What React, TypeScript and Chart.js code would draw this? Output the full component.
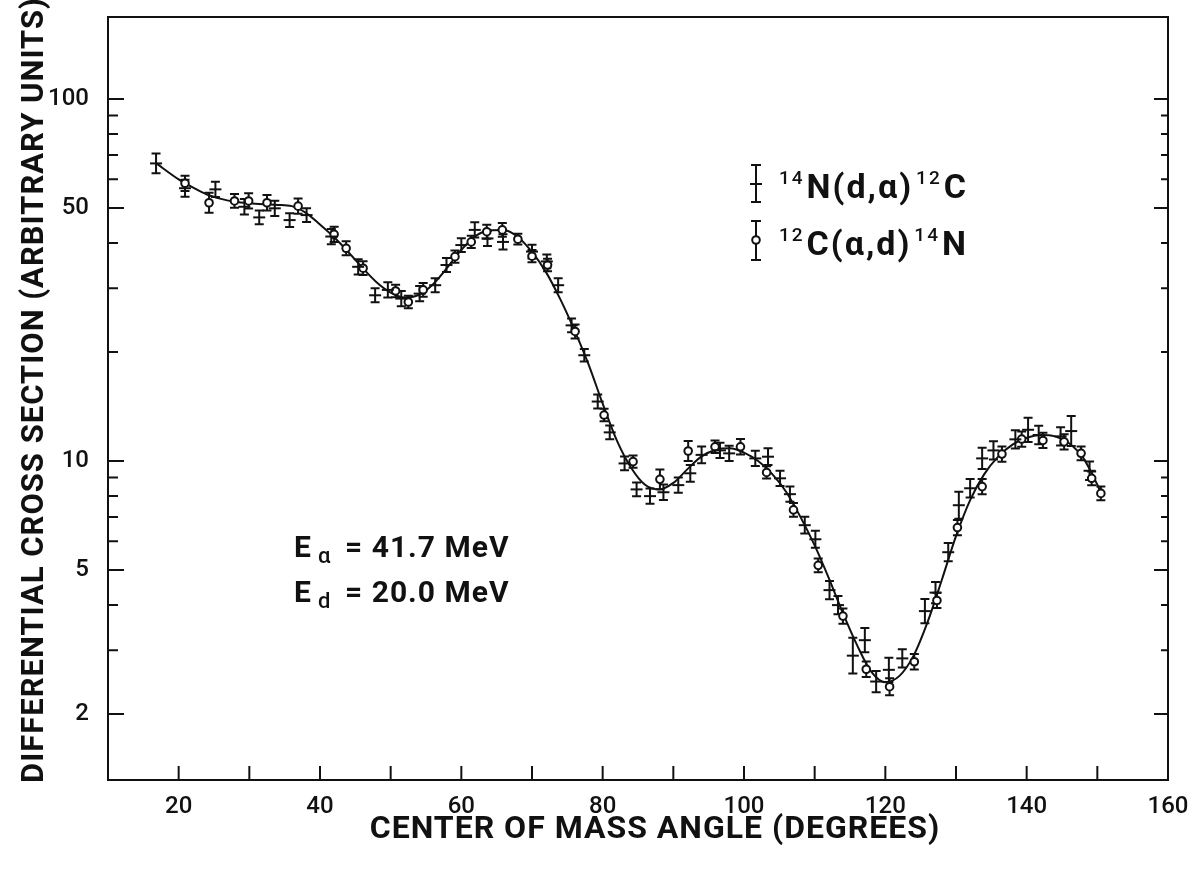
import React, { useEffect, useRef } from "react";
import { Chart, registerables } from "chart.js";

Chart.register(...registerables);

// ---- data ----
// 14N(d,alpha)12C  (crosses)
const crossX = [16.8, 20.9, 25.2, 29.3, 31.4, 33.6, 35.7, 38.1, 41.6, 45.4, 47.8, 49.6, 51.5, 54.1, 56.3, 57.9, 60.0, 61.9, 63.7, 65.9, 70.0, 72.1, 73.7, 75.6, 77.4, 79.3, 81.0, 83.1, 84.8, 86.7, 88.6, 90.7, 92.4, 94.0, 96.6, 97.9, 101.6, 103.4, 105.1, 106.5, 108.6, 110.1, 112.1, 113.3, 115.4, 117.1, 118.7, 120.5, 122.4, 125.6, 127.1, 128.9, 130.4, 132.0, 133.7, 135.3, 138.4, 140.2, 141.7, 144.8, 146.3, 148.9];
const crossY = [66.4, 56.7, 56.3, 50.4, 47.1, 49.9, 46.3, 47.8, 41.7, 34.4, 28.7, 29.7, 28.1, 29.0, 30.6, 34.8, 39.5, 43.5, 41.2, 40.3, 37.9, 35.6, 30.6, 23.7, 19.6, 14.6, 12.0, 9.85, 8.35, 8.0, 8.2, 8.58, 9.25, 10.4, 10.7, 10.5, 10.17, 10.28, 8.96, 8.1, 6.65, 6.08, 4.40, 4.0, 2.90, 3.2, 2.46, 2.65, 2.85, 3.85, 4.33, 5.6, 7.55, 8.41, 10.17, 10.7, 11.48, 12.2, 11.8, 11.7, 12.1, 9.4];
const crossErr = [6.5, 5.5, 5, 5, 4.5, 5, 4.5, 4.5, 5, 5, 4.5, 5, 5, 5, 4.5, 4.5, 4.5, 5, 5, 5, 4.5, 4.5, 4.5, 4.5, 4, 4.5, 4.5, 4.5, 4.5, 5, 5, 5, 5.5, 5.5, 5, 5, 5, 5.5, 5, 5, 5.5, 5.5, 6, 6, 12, 8, 7, 8, 6, 8, 7, 6, 9, 6, 7, 6, 6, 8, 6, 6, 10, 6];

// 12C(alpha,d)14N  (circles)
const circleX = [20.9, 24.3, 27.9, 29.9, 32.5, 36.9, 42.0, 43.7, 46.1, 50.7, 52.5, 54.6, 59.1, 61.4, 63.6, 65.8, 68.0, 70.0, 72.2, 76.1, 80.2, 84.3, 88.1, 92.1, 95.9, 99.5, 103.2, 107.0, 110.5, 114.0, 117.3, 120.6, 124.1, 127.3, 130.2, 133.7, 136.5, 139.3, 142.3, 145.3, 147.7, 149.2, 150.5];
const circleY = [58.5, 51.7, 52.3, 52.3, 51.7, 50.6, 42.3, 38.7, 34.1, 29.5, 27.5, 29.7, 36.7, 40.3, 43.0, 43.5, 41.0, 36.8, 34.8, 22.8, 13.4, 9.96, 8.9, 10.66, 10.95, 10.95, 9.3, 7.33, 5.15, 3.73, 2.66, 2.38, 2.79, 4.12, 6.55, 8.5, 10.45, 11.5, 11.4, 11.3, 10.5, 8.96, 8.14];
const circleErr = [5, 6.5, 4.5, 5, 5, 5, 5, 4.5, 4.5, 4, 4, 4.5, 4, 4, 4.5, 4.5, 3.5, 4, 4, 4.5, 4, 4, 6.5, 6.5, 4, 5, 4, 4.5, 4.5, 5, 5, 5.5, 5, 5, 5, 5, 5, 5, 5, 5, 4.5, 4.5, 4.5];

// fitted curve
const curveX = [16.8, 20, 22, 24, 26, 28, 30, 32, 34, 36, 38, 40, 42, 44, 46, 48, 50, 52, 54, 56, 58, 60, 62, 64, 66, 68, 70, 72, 74, 76, 78, 80, 82, 84, 86, 88, 90, 92, 94, 96, 98, 100, 102, 104, 106, 108, 110, 112, 114, 116, 118, 120, 122, 124, 126, 128, 130, 132, 134, 136, 138, 140, 142, 144, 146, 148, 150, 150.6];
const curveY = [66.5, 60.0, 57.0, 54.5, 53.0, 52.0, 51.5, 51.2, 51.0, 50.6, 48.5, 45.0, 41.5, 37.8, 34.2, 31.2, 29.2, 28.3, 28.8, 30.8, 34.2, 38.3, 41.8, 43.4, 43.5, 41.6, 37.8, 33.2, 28.0, 23.0, 18.5, 14.4, 11.4, 9.6, 8.6, 8.35, 8.7, 9.5, 10.3, 10.75, 10.85, 10.55, 10.0, 9.2, 8.2, 7.0, 5.85, 4.75, 3.8, 3.1, 2.62, 2.45, 2.55, 2.9, 3.6, 4.7, 6.2, 7.8, 9.2, 10.3, 11.1, 11.6, 11.8, 11.7, 11.2, 10.2, 8.6, 8.1];

// axes
const xRange = [10, 160];
const yRange = [1.315, 168.5];
const xTickLabels = [20, 40, 60, 80, 100, 120, 140, 160];
const xTickMarks = [20, 30, 40, 50, 60, 70, 80, 90, 100, 110, 120, 130, 140, 150, 160];
const yTickLabels = [2, 5, 10, 50, 100];
const yMinorTicks = [3, 4, 6, 7, 8, 9, 20, 30, 40, 60, 70, 80, 90];

const xTitle = "CENTER OF MASS ANGLE (DEGREES)";
const yTitle = "DIFFERENTIAL CROSS SECTION (ARBITRARY UNITS)";

// legend pieces: [superscript, text, superscript, text]
const legendCross = ["14", "N(d,α)", "12", "C"];
const legendCircle = ["12", "C(α,d)", "14", "N"];

// energy annotation: [symbol, subscript, value]
const energyAlpha = ["E", "α", "= 41.7 MeV"];
const energyD = ["E", "d", "= 20.0 MeV"];

const FONT = "Roboto, 'DejaVu Sans', sans-serif";
const INK = "#111";

export default function App() {
  const ref = useRef<HTMLCanvasElement>(null);

  useEffect(() => {
    const canvas = ref.current;
    if (!canvas) return;

    const errPlugin = {
      id: "errbars",
      beforeDatasetsDraw(chart: any) {
        const { ctx } = chart;
        const xs = chart.scales.x;
        const ys = chart.scales.y;
        ctx.save();
        ctx.strokeStyle = INK;
        ctx.lineWidth = 2;
        const groups: [number[], number[], number[]][] = [
          [crossX, crossY, crossErr],
          [circleX, circleY, circleErr],
        ];
        for (const [gx, gy, ge] of groups) {
          gx.forEach((xv, i) => {
            const px = xs.getPixelForValue(xv);
            const top = ys.getPixelForValue(gy[i] * (1 + ge[i] / 100));
            const bot = ys.getPixelForValue(gy[i] / (1 + ge[i] / 100));
            ctx.beginPath();
            ctx.moveTo(px, top);
            ctx.lineTo(px, bot);
            ctx.moveTo(px - 4.5, top);
            ctx.lineTo(px + 4.5, top);
            ctx.moveTo(px - 4.5, bot);
            ctx.lineTo(px + 4.5, bot);
            ctx.stroke();
          });
        }
        ctx.restore();
      },
    };

    const framePlugin = {
      id: "frame",
      afterDraw(chart: any) {
        const { ctx, chartArea: a } = chart;
        const xs = chart.scales.x;
        const ys = chart.scales.y;
        ctx.save();
        ctx.strokeStyle = INK;
        ctx.lineWidth = 2;
        ctx.strokeRect(a.left, a.top, a.right - a.left, a.bottom - a.top);
        ctx.beginPath();
        for (const v of xTickMarks) {
          const px = xs.getPixelForValue(v);
          ctx.moveTo(px, a.bottom);
          ctx.lineTo(px, a.bottom - 14);
        }
        for (const v of yTickLabels) {
          const py = ys.getPixelForValue(v);
          ctx.moveTo(a.left, py);
          ctx.lineTo(a.left + 16, py);
          ctx.moveTo(a.right, py);
          ctx.lineTo(a.right - 14, py);
        }
        for (const v of yMinorTicks) {
          const py = ys.getPixelForValue(v);
          ctx.moveTo(a.left, py);
          ctx.lineTo(a.left + 10, py);
          ctx.moveTo(a.right, py);
          ctx.lineTo(a.right - 7, py);
        }
        ctx.stroke();

        // axis titles
        ctx.fillStyle = INK;
        ctx.textAlign = "center";
        ctx.textBaseline = "middle";
        ctx.font = `bold 32px ${FONT}`;
        (ctx as any).letterSpacing = "1px";
        ctx.fillText(xTitle, 655, 830);
        ctx.save();
        ctx.translate(35, 390);
        ctx.rotate(-Math.PI / 2);
        ctx.font = `bold 31px ${FONT}`;
        ctx.fillText(yTitle, 0, 0);
        ctx.restore();
        (ctx as any).letterSpacing = "0px";

        // legend
        const drawLegendText = (parts: string[], x: number, base: number) => {
          let cx = x;
          ctx.fillStyle = INK;
          ctx.textBaseline = "alphabetic";
          ctx.textAlign = "left";
          (ctx as any).letterSpacing = "2px";
          parts.forEach((p, i) => {
            const sup = i % 2 === 0;
            ctx.font = sup ? `500 19px ${FONT}` : `bold 34px ${FONT}`;
            ctx.fillText(p, cx, sup ? base - 14 : base);
            cx += ctx.measureText(p).width + (sup ? 2 : 3);
          });
          (ctx as any).letterSpacing = "0px";
        };
        const symX = 756;
        ctx.beginPath();
        ctx.moveTo(symX, 165);
        ctx.lineTo(symX, 202);
        ctx.moveTo(symX - 5, 165);
        ctx.lineTo(symX + 5, 165);
        ctx.moveTo(symX - 5, 202);
        ctx.lineTo(symX + 5, 202);
        ctx.moveTo(symX - 6, 184);
        ctx.lineTo(symX + 6, 184);
        ctx.moveTo(symX, 221);
        ctx.lineTo(symX, 260);
        ctx.moveTo(symX - 5, 221);
        ctx.lineTo(symX + 5, 221);
        ctx.moveTo(symX - 5, 260);
        ctx.lineTo(symX + 5, 260);
        ctx.stroke();
        ctx.beginPath();
        ctx.arc(symX, 240, 3.8, 0, Math.PI * 2);
        ctx.fillStyle = "#fff";
        ctx.fill();
        ctx.stroke();
        drawLegendText(legendCross, 779, 198);
        drawLegendText(legendCircle, 779, 255);

        // energies
        const drawEnergy = (parts: string[], base: number) => {
          ctx.fillStyle = INK;
          ctx.textAlign = "left";
          ctx.textBaseline = "alphabetic";
          ctx.font = `bold 30px ${FONT}`;
          ctx.fillText(parts[0], 294, base);
          ctx.font = `500 22px ${FONT}`;
          ctx.fillText(parts[1], 318, base + 6);
          ctx.font = `bold 30px ${FONT}`;
          (ctx as any).letterSpacing = "1px";
          ctx.fillText(parts[2], 345, base);
          (ctx as any).letterSpacing = "0px";
        };
        drawEnergy(energyAlpha, 557);
        drawEnergy(energyD, 602);
        ctx.restore();
      },
    };

    const chart = new Chart(canvas, {
      type: "scatter",
      data: {
        datasets: [
          {
            label: "14N(d,α)12C",
            data: crossX.map((x, i) => ({ x, y: crossY[i] })),
            pointStyle: "line",
            pointRadius: 6,
            borderColor: INK,
            borderWidth: 2,
            backgroundColor: INK,
            showLine: false,
          },
          {
            label: "12C(α,d)14N",
            data: circleX.map((x, i) => ({ x, y: circleY[i] })),
            pointStyle: "circle",
            pointRadius: 3.8,
            borderColor: INK,
            borderWidth: 2,
            backgroundColor: "#fff",
            showLine: false,
          },
          {
            label: "fit",
            data: curveX.map((x, i) => ({ x, y: curveY[i] })),
            showLine: true,
            pointRadius: 0,
            borderColor: INK,
            borderWidth: 2,
            tension: 0.4,
            cubicInterpolationMode: "monotone",
            fill: false,
          },
        ],
      },
      options: {
        animation: false,
        responsive: false,
        maintainAspectRatio: false,
        layout: { padding: { top: 17, right: 34, left: 0, bottom: 0 } },
        plugins: {
          legend: { display: false },
          tooltip: { enabled: false },
        },
        scales: {
          x: {
            type: "linear",
            min: xRange[0],
            max: xRange[1],
            afterBuildTicks: (s: any) => {
              s.ticks = xTickLabels.map((v) => ({ value: v }));
            },
            afterFit: (s: any) => {
              s.height = 91;
              s.paddingLeft = 0;
              s.paddingRight = 0;
              s.paddingTop = 0;
              s.paddingBottom = 0;
            },
            grid: { display: false, drawTicks: false },
            border: { display: false },
            ticks: {
              autoSkip: false,
              maxRotation: 0,
              padding: 13,
              color: INK,
              font: { family: FONT, size: 24, weight: "500" },
              callback: (v: any) => String(v),
            },
            title: { display: false, text: xTitle },
          },
          y: {
            type: "logarithmic",
            min: yRange[0],
            max: yRange[1],
            afterBuildTicks: (s: any) => {
              s.ticks = yTickLabels.map((v) => ({ value: v }));
            },
            afterFit: (s: any) => {
              s.width = 108;
              s.paddingLeft = 0;
              s.paddingRight = 0;
              s.paddingTop = 0;
              s.paddingBottom = 0;
            },
            grid: { display: false, drawTicks: false },
            border: { display: false },
            ticks: {
              autoSkip: false,
              padding: 19,
              color: INK,
              font: { family: FONT, size: 24, weight: "500" },
              callback: (v: any) => String(v),
            },
            title: { display: false, text: yTitle },
          },
        },
      },
      plugins: [errPlugin, framePlugin],
    } as any);

    return () => chart.destroy();
  }, []);

  return (
    <div style={{ position: "fixed", left: 0, top: 0, width: 1202, height: 871, background: "#fff" }}>
      <canvas ref={ref} width={1202} height={871} style={{ display: "block" }} />
    </div>
  );
}
